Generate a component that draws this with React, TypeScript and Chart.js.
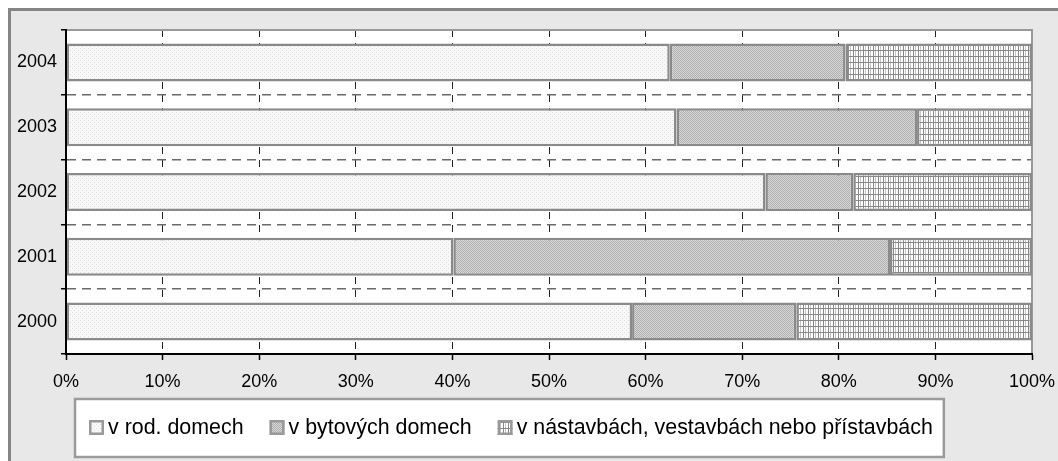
import React, { useEffect, useRef } from 'react';
import { Chart, registerables } from 'chart.js';

Chart.register(...registerables);

// ---- data ----
const years = ['2004', '2003', '2002', '2001', '2000'];
const seriesNames = [
  'v rod. domech',
  'v bytových domech',
  'v nástavbách, vestavbách nebo přístavbách',
];
const rodDomy = [62.5, 63.2, 72.4, 40.1, 58.6];
const bytoveDomy = [18.2, 24.9, 9.1, 45.2, 17.0];
const nastavby = [19.3, 11.9, 18.5, 14.7, 24.4];
const xMin = 0;
const xMax = 100;
const xStep = 10;

const FONT = '"Liberation Sans", Arial, Helvetica, sans-serif';

function makePattern(kind: number): CanvasPattern | string {
  const tile = document.createElement('canvas');
  const c = tile.getContext('2d');
  if (!c) return '#ccc';
  if (kind === 0) {
    tile.width = 4; tile.height = 4;
    c.fillStyle = '#f8f8f8';
    c.fillRect(0, 0, 4, 4);
    c.fillStyle = '#dddddd';
    c.fillRect(0, 0, 1, 1);
    c.fillRect(2, 2, 1, 1);
  } else if (kind === 1) {
    tile.width = 4; tile.height = 4;
    for (let y = 0; y < 4; y++) {
      for (let x = 0; x < 4; x++) {
        c.fillStyle = (x + y) % 2 === 0 ? '#adadad' : '#d9d9d9';
        c.fillRect(x, y, 1, 1);
      }
    }
  } else {
    tile.width = 5; tile.height = 6;
    c.fillStyle = '#ffffff';
    c.fillRect(0, 0, 5, 6);
    c.fillStyle = '#c4c4c4';
    c.fillRect(2, 0, 1, 6);
    c.fillStyle = '#888888';
    c.fillRect(0, 0, 1, 6);
    c.fillRect(0, 0, 5, 1);
  }
  const p = c.createPattern(tile, 'repeat');
  return p || '#ccc';
}

const decorPlugin = {
  id: 'decor',
  beforeDraw(chart: any) {
    const { ctx, width, height, chartArea: ca } = chart;
    ctx.save();
    ctx.fillStyle = '#e8e8e8';
    ctx.fillRect(0, 0, width, height);
    ctx.fillStyle = '#858585';
    ctx.fillRect(0, 0, width, 3);
    ctx.fillRect(0, 0, 3, height);
    ctx.fillStyle = '#ffffff';
    ctx.fillRect(ca.left, ca.top, ca.right - ca.left, ca.bottom - ca.top);
    ctx.restore();
  },
  beforeDatasetsDraw(chart: any) {
    const { ctx, chartArea: ca } = chart;
    ctx.save();
    ctx.strokeStyle = '#999999';
    ctx.lineWidth = 2;
    ctx.beginPath();
    ctx.moveTo(ca.left, ca.top);
    ctx.lineTo(ca.right, ca.top);
    ctx.lineTo(ca.right, ca.bottom);
    ctx.stroke();
    ctx.restore();
  },
  afterDraw(chart: any) {
    const { ctx } = chart;
    const datasets = chart.data.datasets;
    ctx.save();
    ctx.font = '21.4px ' + FONT;
    const marker = 15;
    const markerGap = 4;
    const itemGap = 26;
    const padL = 14;
    const padR = 11;
    let total = padL + padR;
    datasets.forEach((ds: any, i: number) => {
      total += marker + markerGap + ctx.measureText(ds.label).width;
      if (i < datasets.length - 1) total += itemGap;
    });
    const boxL = 67;
    const boxT = 391;
    const boxH = 58;
    ctx.fillStyle = '#ffffff';
    ctx.fillRect(boxL, boxT, total, boxH);
    ctx.strokeStyle = '#9a9a9a';
    ctx.lineWidth = 2.5;
    ctx.strokeRect(boxL, boxT, total, boxH);
    const cy = boxT + boxH / 2 - 0.5;
    let x = boxL + padL;
    datasets.forEach((ds: any) => {
      ctx.fillStyle = ds.backgroundColor;
      ctx.fillRect(x, cy - marker / 2, marker, marker);
      ctx.strokeStyle = '#999999';
      ctx.lineWidth = 2.5;
      ctx.strokeRect(x + 1.25, cy - marker / 2 + 1.25, marker - 2.5, marker - 2.5);
      x += marker + markerGap;
      ctx.fillStyle = '#000000';
      ctx.textBaseline = 'middle';
      ctx.textAlign = 'left';
      ctx.fillText(ds.label, x, cy + 1);
      x += ctx.measureText(ds.label).width + itemGap;
    });
    ctx.restore();
  },
};

export default function App() {
  const ref = useRef<HTMLCanvasElement | null>(null);

  useEffect(() => {
    const canvas = ref.current;
    if (!canvas) return;
    const values = [rodDomy, bytoveDomy, nastavby];
    const chart = new Chart(canvas, {
      type: 'bar',
      data: {
        labels: years,
        datasets: values.map((v, i) => ({
          label: seriesNames[i],
          data: v,
          backgroundColor: makePattern(i) as any,
          borderColor: '#8a8a8a',
          borderWidth: 2.5,
          borderSkipped: false,
          categoryPercentage: 1,
          barPercentage: 0.587,
        })),
      },
      options: {
        indexAxis: 'y',
        animation: false,
        responsive: false,
        devicePixelRatio: 1,
        layout: { padding: { top: 22, left: 0, right: 26, bottom: 67 } },
        plugins: {
          legend: { display: false },
          tooltip: { enabled: false },
          title: { display: false },
        },
        scales: {
          x: {
            type: 'linear',
            stacked: true,
            min: xMin,
            max: xMax,
            afterFit: (s: any) => {
              s.height = 40;
              s.paddingLeft = 0;
              s.paddingRight = 0;
            },
            ticks: {
              stepSize: xStep,
              padding: 11,
              color: '#000',
              font: { family: FONT, size: 18 },
              callback: (v: any) => v + '%',
            },
            grid: {
              color: '#222222',
              lineWidth: 1,
              tickColor: '#000',
              tickLength: 6,
              tickWidth: 1.5,
            },
            border: { display: true, color: '#000', width: 2, dash: [7, 6], z: 1 },
          },
          y: {
            type: 'category',
            stacked: true,
            afterFit: (s: any) => {
              s.width = 58;
              s.paddingTop = 0;
              s.paddingBottom = 0;
            },
            ticks: {
              padding: 4,
              color: '#000',
              font: { family: FONT, size: 18 },
            },
            grid: {
              offset: true,
              color: '#6a6a6a',
              lineWidth: 1.5,
              tickColor: '#000',
              tickLength: 5,
              tickWidth: 1.5,
            },
            border: { display: true, color: '#000', width: 2, dash: [9, 6], z: 1 },
          },
        },
      },
      plugins: [decorPlugin],
    } as any);
    return () => chart.destroy();
  }, []);

  return (
    <div style={{ position: 'fixed', left: 8, top: 8, width: 1050, height: 453 }}>
      <canvas ref={ref} width={1050} height={453} style={{ display: 'block' }} />
    </div>
  );
}
